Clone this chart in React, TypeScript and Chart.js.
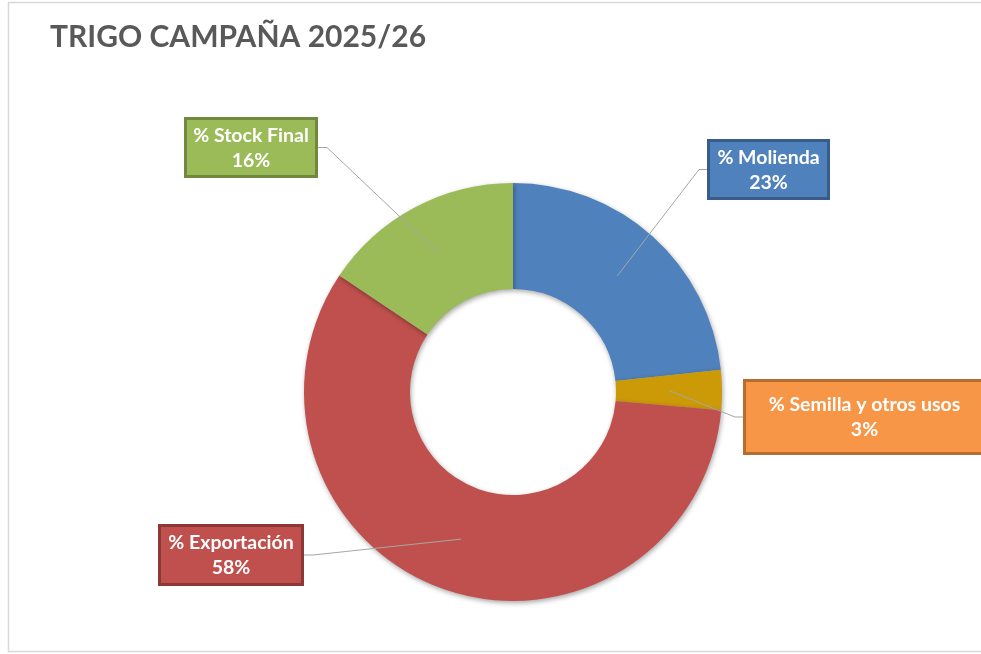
import React, { useEffect, useRef } from "react";
import { Chart, registerables } from "chart.js";

Chart.register(...registerables);

const TITLE = "TRIGO CAMPAÑA 2025/26";
const categories = ["% Molienda", "% Semilla y otros usos", "% Exportación", "% Stock Final"];
const values = [23.3, 3.1, 58.0, 15.6];
const sliceColors = ["#4F81BD", "#CC9A06", "#C0504D", "#9BBB59"];
const boxFill = ["#4F81BD", "#F79646", "#C0504D", "#9BBB59"];
const boxBorder = ["#385D8A", "#B66D31", "#8C3836", "#71893F"];
// label box placement relative to doughnut centre: [dx, dy, width, height]
const boxPlace = [
  [255.5, -222.5, 123, 61],
  [351.5, 25, 243, 76],
  [-282, 163, 146, 62],
  [-262, -244.5, 134, 61],
];

const FONT = "Lato, 'Open Sans', sans-serif";

const decorPlugin = {
  id: "decor",
  beforeDraw(chart: any) {
    const ctx = chart.ctx;
    ctx.save();
    ctx.fillStyle = "#FFFFFF";
    ctx.fillRect(0, 0, chart.width, chart.height);
    ctx.strokeStyle = "#D9D9D9";
    ctx.lineWidth = 1.5;
    ctx.strokeRect(8.5, 2.5, 1100, 649);
    ctx.fillStyle = "#595959";
    ctx.font = `bold 30px ${FONT}`;
    ctx.textBaseline = "alphabetic";
    ctx.textAlign = "left";
    ctx.fillText(TITLE, 50, 47);
    ctx.restore();
  },
  beforeDatasetsDraw(chart: any) {
    const ctx = chart.ctx;
    ctx.save();
    ctx.shadowColor = "rgba(0,0,0,0.35)";
    ctx.shadowBlur = 5;
    ctx.shadowOffsetX = 1;
    ctx.shadowOffsetY = 2;
  },
  afterDatasetsDraw(chart: any) {
    const ctx = chart.ctx;
    ctx.restore();
    const meta = chart.getDatasetMeta(0);
    const total = values.reduce((a, b) => a + b, 0);
    ctx.save();
    meta.data.forEach((arc: any, i: number) => {
      const { x, y, startAngle, endAngle, innerRadius, outerRadius } = arc.getProps(
        ["x", "y", "startAngle", "endAngle", "innerRadius", "outerRadius"],
        true
      );
      const mid = (startAngle + endAngle) / 2;
      const r = (innerRadius + outerRadius) / 2;
      const ax = x + Math.cos(mid) * r;
      const ay = y + Math.sin(mid) * r;
      const [dx, dy, w, h] = boxPlace[i];
      const bx = x + dx - w / 2;
      const by = y + dy - h / 2;
      const leftOfAnchor = x + dx < ax;
      const ex = leftOfAnchor ? bx + w : bx;
      const ey = y + dy;
      const elbow = leftOfAnchor ? ex + 9 : ex - 8;
      ctx.strokeStyle = "#A6A6A6";
      ctx.lineWidth = 1;
      ctx.beginPath();
      ctx.moveTo(ex, ey);
      ctx.lineTo(elbow, ey);
      ctx.lineTo(ax, ay);
      ctx.stroke();
      ctx.fillStyle = boxFill[i];
      ctx.fillRect(bx, by, w, h);
      ctx.strokeStyle = boxBorder[i];
      ctx.lineWidth = 3;
      ctx.strokeRect(bx + 1.5, by + 1.5, w - 3, h - 3);
      ctx.fillStyle = "#FFFFFF";
      ctx.font = `bold 19.5px ${FONT}`;
      ctx.textAlign = "center";
      ctx.textBaseline = "middle";
      const pct = Math.round((values[i] / total) * 100) + "%";
      ctx.fillText(categories[i], x + dx, ey - 12);
      ctx.fillText(pct, x + dx, ey + 13);
    });
    ctx.restore();
  },
};

export default function App() {
  const ref = useRef<HTMLCanvasElement>(null);
  useEffect(() => {
    document.body.style.margin = "0";
    const chart = new Chart(ref.current!, {
      type: "doughnut",
      data: {
        labels: categories,
        datasets: [
          {
            data: values,
            backgroundColor: sliceColors,
            borderWidth: 0,
          },
        ],
      },
      options: {
        animation: false,
        responsive: false,
        cutout: "49.3%",
        layout: { padding: { left: 304, right: 259, top: 183, bottom: 53 } },
        plugins: {
          legend: { display: false },
          title: { display: false },
          tooltip: { enabled: false },
        },
      },
      plugins: [decorPlugin],
    });
    return () => chart.destroy();
  }, []);
  return (
    <div style={{ width: 981, height: 654 }}>
      <canvas ref={ref} width={981} height={654} />
    </div>
  );
}
